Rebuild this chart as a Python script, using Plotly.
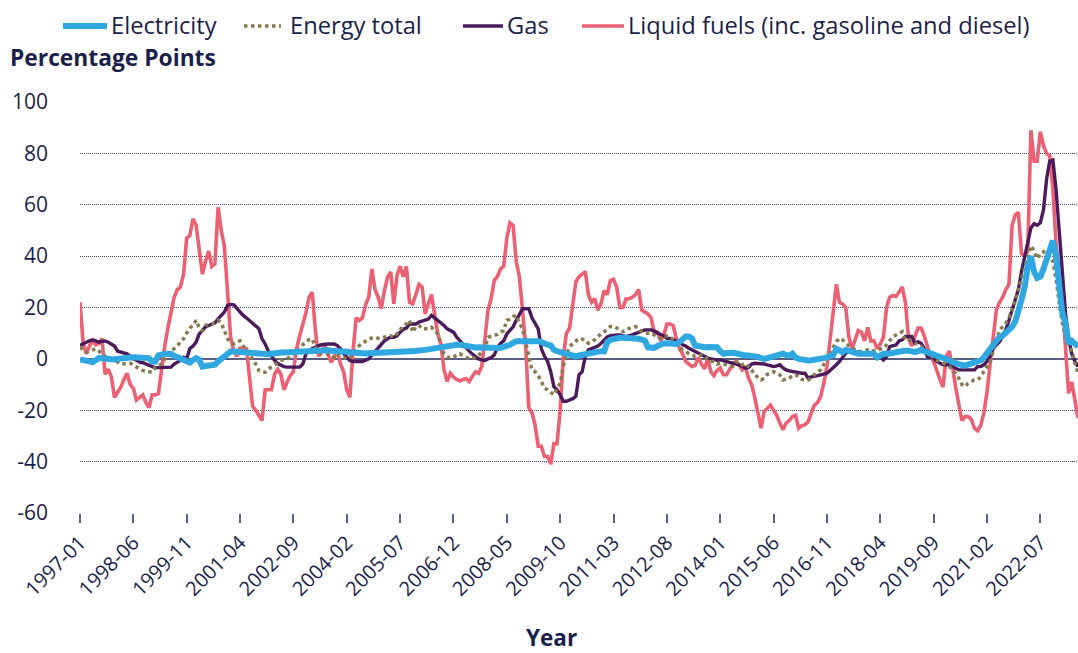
import pandas as pd
import plotly.graph_objects as go

# Monthly categories 1997-01 .. 2023-07
months = [p.strftime("%Y-%m") for p in pd.period_range("1997-01", "2023-07", freq="M")]
tick_labels = ["1997-01", "1998-06", "1999-11", "2001-04", "2002-09", "2004-02", "2005-07",
               "2006-12", "2008-05", "2009-10", "2011-03", "2012-08", "2014-01", "2015-06",
               "2016-11", "2018-04", "2019-09", "2021-02", "2022-07"]
y_ticks = [-60, -40, -20, 0, 20, 40, 60, 80, 100]
y_tick_text = ["-60", "-40", "-20", "0", "20", "40", "60", "80", "100"]

electricity = [
    -0.2, -0.3, -0.5, -1, -1.3, -0.3, 0.3, 0.2, 0, -0.2, -0.3, -0.2,
    0, 0, 0.2, 0.3, 0.5, 0.6, 0.6, 0.6, 0.6, 0.5, 0.3, -1,
    -1, 1.4, 1.8, 1.9, 1.9, 1.9, 1.2, 0.6, 0, -0.5, -1, -1.4,
    -0.5, 0.3, -0.3, -3, -2.8, -2.7, -2.5, -2.3, -1, 0, 1.6, 2.5,
    2.9, 2.9, 2.8, 2.6, 2.5, 2.3, 2.3, 2.3, 2.3, 2, 1.6, 1.7,
    1.8, 2, 2.3, 2.4, 2.5, 2.5, 2.6, 2.6, 2.6, 2.6, 2.6, 2.6,
    2.8, 3.2, 3.3, 3.5, 3.5, 3.5, 3.5, 3.4, 3.2, 3.2, 3.2, 3.2,
    3, 2.8, 2.6, 2.4, 2.2, 2, 2, 2.1, 2.2, 2.3, 2.4, 2.6,
    2.7, 2.8, 2.9, 3, 3, 3, 3, 3, 3, 3, 3, 3,
    3.2, 3.3, 3.5, 3.7, 3.9, 4.2, 4.6, 4.9, 5.1, 5.3, 5.5, 5.5,
    5.5, 5.5, 5.2, 4.9, 4.6, 4.3, 4.4, 4.5, 4.4, 4.3, 4.1, 3.9,
    4, 4.2, 4.3, 4.6, 4.8, 5.5, 6.2, 6.9, 6.9, 6.9, 7, 7.1,
    7, 7, 6.9, 6.5, 5.8, 5.5, 5.2, 3.5, 3, 2.6, 2.3, 2,
    1.5, 0.9, 1, 1.3, 1.6, 2, 2.3, 2.6, 2.9, 3.2, 3, 2.9,
    6.5, 7.4, 7.8, 8.2, 8.2, 8.2, 8.2, 8.2, 8.2, 8, 7.8, 7.5,
    7.1, 4.5, 4.5, 4.3, 5, 5.6, 6, 6.1, 6, 5.9, 5.8, 6.5,
    7.8, 8.7, 8.7, 8, 5.2, 4.8, 4.5, 4.5, 4.6, 4.6, 4.6, 4.5,
    3, 2, 2.3, 2.6, 2.4, 2.2, 1.8, 1.3, 1.3, 1.3, 1.3, 1.3,
    0.8, 0.3, 0, 0.3, 0.6, 1, 1.3, 1.8, 2, 1.5, 1.3, 2,
    0.5, 0, -0.4, -0.5, -0.6, -0.5, -0.4, -0.2, 0, 0.3, 0.6, 1,
    1.5, 3.9, 3, 2.6, 3.5, 3, 2.6, 2.3, 2, 2, 2, 2,
    2, 2, 0.6, 1.3, 2, 2, 2, 2.3, 2.6, 3, 3.2, 3.2,
    3.2, 3, 2.6, 3, 3.5, 3, 2.6, 2, 1.3, 1, 0.6, 0.3,
    0, -0.5, -1.3, -1.8, -2.2, -2.4, -2.6, -2.2, -1.8, -1.3, -1, -0.6,
    0.5, 2.5, 4, 5.5, 7, 8.5, 9, 10, 11, 12.5, 14.5, 18,
    23, 28, 36, 40, 34, 31.5, 32, 35, 39, 42, 46, 40,
    28, 18, 14, 6, 7, 5.5, 4.8,
]

energy_total = [
    4.5, 3.5, 2.6, 3, 3.5, 3.9, 3, 2, 1, 0.5, 0, -0.6,
    -1.2, -2, -2, -1.7, -1.7, -2.5, -3.2, -3.8, -4.5, -4.8, -5, -5.2,
    -3.2, -2.5, -2, 0, 2, 2.8, 3.8, 5.2, 6.5, 7.8, 10, 12,
    13, 15, 12, 11, 13, 13.6, 13.6, 14, 15, 14, 11, 7.8,
    6.5, 5.8, 6.5, 7, 5, 3.5, 2, 0, -2, -4.5, -5.2, -5.2,
    -4, -3.2, -2.6, -1.5, -0.6, -0.3, 0, 1, 2, 2, 4, 5.5,
    6.5, 7.5, 7.8, 4.5, 3, 2, 2, 2, 1, 0.6, 2, 1,
    0.6, 0, 0.5, 2, 4, 5.2, 6, 7, 7.8, 8.1, 8.4, 8,
    8, 8.4, 8.8, 9, 8.4, 10, 11.7, 12.8, 13.6, 15, 10.4, 12.5,
    13, 11.7, 11.7, 11.7, 12.3, 11, 9.7, 5.8, 2, 0.6, 0.6, 0.6,
    1.5, 2, 1.3, 0.6, 0, 0.3, 0.6, 1.3, 2.5, 4, 8.4, 8.8,
    9, 9.5, 10.5, 11, 15, 15.5, 16.5, 17, 14, 11.7, 6.5, 1.3,
    -4.3, -5, -6.5, -8.8, -11.4, -12, -13, -14, -11.4, -9.5, -3, 1.6,
    4.8, 5.8, 6.7, 8, 7.7, 7.4, 6.1, 6.8, 7.4, 8.7, 9.5, 10.6,
    11.5, 12.6, 12.6, 12, 11.3, 10.6, 11, 11.9, 12.3, 12.6, 11.3, 10.5,
    10, 10, 10, 9.3, 8.5, 8, 9, 9, 8.7, 7.5, 6.1, 5,
    3.5, 2.9, 2, 1.6, 1, 1.2, 1.6, 0.5, 0, -1, -1, -2,
    -1.7, -2, -2.3, -2.6, -3, -1.5, -1, -2.3, -1.7, -3, -4.3, -6.2,
    -7, -8.2, -7.5, -6, -5.6, -5, -5.6, -6.2, -8.2, -8, -7.5, -6.5,
    -6.2, -6.9, -8, -8.2, -8.2, -7.5, -6.2, -5, -4.3, -2.3, -0.4, 2.2,
    4.5, 6.7, 8, 7.4, 6.1, 5, 4.1, 3.5, 2.9, 2.9, 3.2, 3.5,
    2.9, 3.2, 3.5, 3.8, 4.1, 5.4, 7, 8.7, 9.3, 10, 10.6, 7.4,
    7.4, 6.8, 6.1, 5.4, 5, 3.5, 2.5, 1.6, 0.3, -0.5, -1, -1.7,
    -2.3, -3, -4.5, -5.6, -7.5, -10, -10.8, -9.5, -8.8, -8.2, -8.2, -7,
    -5, -3, -1, 3, 7, 11, 12.6, 13.9, 16, 19, 22.5, 27,
    31, 36, 40, 44, 42, 39, 41, 41.7, 40, 40, 38, 31,
    22, 14, 9, 6, 3, -1.5, -5.6,
]

gas = [
    5.2, 6, 6.5, 7, 7.4, 7, 6.5, 6.8, 7, 6.5, 5.8, 5,
    3, 2.6, 2.3, 2, 1, 0, -0.5, -1.3, -1.5, -2, -2.5, -3,
    -3.5, -3.4, -3.3, -3.2, -3.2, -3.2, -2, -1.2, -0.6, 0.6, 0, 4,
    5, 6.5, 9.7, 11, 12.5, 13, 13.6, 14, 15.6, 17, 18.2, 20.8,
    21.2, 21, 19.5, 18, 16.9, 16, 15, 13.6, 13, 11.7, 7.8, 5.8,
    3, 1, -0.6, -1.8, -2.6, -3, -3.2, -3.2, -3.2, -3.2, -3.2, -2,
    2, 3, 4, 4.5, 5.2, 5.5, 5.8, 5.8, 5.8, 5.8, 5.2, 3.9,
    2, 0.5, -0.6, -1, -1, -1, -1, -0.5, 0, 1.5, 3, 4,
    6, 7, 7.8, 8.4, 8.4, 9, 10.4, 11.5, 12, 13.6, 13.6, 13.6,
    14.3, 14.6, 15, 15.5, 16.9, 16, 15, 14, 13, 11.7, 11, 10.4,
    8.5, 7, 5.8, 4.5, 3, 1.9, 0.8, 0, -0.4, -0.6, 0, 0.5,
    1.5, 4.5, 6, 7, 9.7, 11, 12.5, 15, 17.5, 19.5, 19.5, 19.5,
    16, 13.6, 11.7, 4, 1, -1, -5, -10.8, -12, -14, -16.5, -16.5,
    -16, -15.5, -14.6, -6.2, -5, 1, 3.5, 4, 4.5, 5, 6, 7.4,
    8.5, 9, 9.3, 9.3, 9.3, 9, 8.7, 9, 9.5, 10, 10.6, 11,
    11.3, 11.3, 11.3, 10.8, 10, 9.5, 9, 8, 8, 7.5, 7, 6.5,
    5.5, 5, 4.1, 3.5, 3, 2.5, 1.6, 1, 0.3, 0, -0.4, -0.5,
    -0.4, -0.7, -1, -1.3, -1.7, -2, -2.3, -3, -3.6, -3.3, -2, -1.7,
    -1.7, -1.7, -2, -2.3, -2.7, -3, -2.7, -2.3, -3.5, -4.3, -4.7, -5,
    -5.3, -5.6, -5.6, -5.6, -7.5, -7, -6.9, -6.5, -6.2, -6, -5.6, -4.5,
    -3.6, -2.3, -1, 0.9, 2.2, 2.9, 2.9, 2.9, 2.5, 2.2, 2.2, 2.2,
    2, 1.6, 1.2, 0.9, -0.4, 0.9, 4.8, 5.2, 5.4, 7, 7.4, 8.7,
    8.7, 8.7, 6.1, 6.7, 6.1, 4.1, 0.9, 0.6, 0.3, -1, -1.7, -2.3,
    -2.3, -2.3, -3, -3.6, -4.3, -4.3, -4.3, -4.3, -4.3, -4.3, -3, -3,
    -2.3, -1, 1, 4, 5.5, 6.7, 9, 11.3, 15, 19, 24, 27,
    34, 40, 46, 51, 52.6, 52, 53, 58, 70, 77, 77.4, 66,
    50, 32, 18, 8, 2, -1, -3,
]

liquid_fuels = [
    22, 6, 2, 5, 7, 5.5, 6, 8, -6, -4, -7, -15,
    -13, -11, -8, -5.6, -10, -11.5, -16, -15, -14, -17, -19, -14,
    -14, -13.5, -3, 5, 12, 18, 24, 27, 28, 33, 47, 48,
    54.5, 52, 42, 33, 38, 42, 36, 37, 59, 50, 44, 27,
    8.4, 3, 1, 4.5, 3, 4.5, -6, -18.5, -20, -22, -24, -12,
    -12, -12, -6, -4, -6, -12, -9, -6.5, -5, 4, 9, 13,
    18, 24, 26, 11, 1, 3, 5, 2, -1.3, 0.6, 3, -2,
    -5, -12, -15, 3, 16, 15, 16, 21, 24, 35, 27, 24,
    19.5, 26.6, 31.8, 33.8, 21.4, 32.5, 36, 32, 36, 22, 21.4, 25,
    29, 28, 17.5, 21.4, 25, 17.5, 9.7, 5.8, -4.3, -8.8, -5.6, -7,
    -8, -8.5, -8, -7.7, -8.8, -7, -5, -5.6, -3, 7.4, 19, 23.4,
    30.5, 32, 35, 36, 47, 53, 52, 38, 32, 19, 5, -19,
    -21, -25.7, -34, -34, -38, -38, -41, -33, -33, -20, 1, 10,
    12, 21, 30, 32, 33, 34, 25, 22, 23.4, 19, 21.4, 26.6,
    25, 30.5, 31, 28, 20, 20, 23.4, 23.4, 24, 25, 27, 19,
    18.2, 17.5, 16, 10, 10.4, 7, 9, 13.6, 13.6, 13, 8, 4,
    2, -1, -2, -3, -2.6, 0.6, -2, -3.9, 0, -5, -6.5, -4.5,
    -3.6, -6.2, -6.2, -4.3, -2, -1, -2.3, -4.3, -3, -7.5, -10, -15,
    -22, -27, -20.5, -19, -18, -20, -22, -25, -27.6, -25, -24, -22.4,
    -22, -27, -26, -25.7, -24.5, -21, -18, -17, -14.6, -9.5, -3, 7.4,
    20, 29, 22, 21.4, 20, 8.4, 3.9, 7.8, 11, 10.4, 7, 12.3,
    7, 7, 3.9, 5.8, 8.4, 20, 24, 24.7, 24.3, 26, 28, 22,
    8, 5, 9, 12, 12, 9, 5, 1, -1, -5, -8, -11,
    1, 3, -3, -11, -18, -24, -22.5, -22.5, -23.5, -27, -28, -26,
    -21, -13, -2, 10, 19, 22, 24, 27, 29, 52, 56, 57,
    41, 40, 42, 89, 77, 77, 88.4, 83, 80, 79, 66, 45,
    32, 23, 5, -13.4, -9, -16, -23,
]

NAVY = "#1b1f4b"
FONT = "Open Sans"
COLORS = {"Electricity": "#2fa8e1", "Energy total": "#857b4f",
          "Gas": "#4b1a5c", "Liquid fuels (inc. gasoline and diesel)": "#ec6074"}

# layout geometry (pixels)
W, H = 1078, 653
L, R, T, B = 80, 0, 102, 140
PW, PH = W - L - R, H - T - B


def px_x(x):
    return (x - L) / PW


def px_y(y):
    return (H - B - y) / PH


fig = go.Figure()
fig.add_trace(go.Scatter(x=months, y=liquid_fuels, mode="lines",
                         name="Liquid fuels (inc. gasoline and diesel)",
                         line=dict(color=COLORS["Liquid fuels (inc. gasoline and diesel)"], width=3.6)))
fig.add_trace(go.Scatter(x=months, y=gas, mode="lines", name="Gas",
                         line=dict(color=COLORS["Gas"], width=3.4)))
fig.add_trace(go.Scatter(x=months, y=energy_total, mode="lines", name="Energy total",
                         line=dict(color=COLORS["Energy total"], width=3.5, dash="dot")))
fig.add_trace(go.Scatter(x=months, y=electricity, mode="lines", name="Electricity",
                         line=dict(color=COLORS["Electricity"], width=6)))

# legend drawn as line samples + text (sample positions in px)
legend_items = [
    ("Electricity", 63, 107, 109, "solid", 6),
    ("Energy total", 244, 281, 288, "dot", 3.5),
    ("Gas", 463, 503, 505, "solid", 3.4),
    ("Liquid fuels (inc. gasoline and diesel)", 582, 624, 626, "solid", 3.6),
]
shapes = []
annotations = []
LEG_Y = 26
for name, s0, s1, tx, dash, w in legend_items:
    shapes.append(dict(type="line", xref="paper", yref="paper",
                       x0=px_x(s0), x1=px_x(s1), y0=px_y(LEG_Y), y1=px_y(LEG_Y),
                       line=dict(color=COLORS[name], width=w, dash=dash)))
    annotations.append(dict(text=name, xref="paper", yref="paper",
                            x=px_x(tx), y=px_y(LEG_Y - 1), xanchor="left", yanchor="middle",
                            showarrow=False, font=dict(size=23.7, color=NAVY, family=FONT)))

annotations.append(dict(text="<b>Percentage Points</b>", xref="paper", yref="paper",
                        x=px_x(8), y=px_y(57), xanchor="left", yanchor="middle",
                        showarrow=False, font=dict(size=22.8, color=NAVY, family=FONT)))
annotations.append(dict(text="<b>Year</b>", xref="paper", yref="paper",
                        x=px_x(551), y=px_y(637), xanchor="center", yanchor="middle",
                        showarrow=False, font=dict(size=22.5, color=NAVY, family=FONT)))

fig.update_layout(
    width=W, height=H,
    margin=dict(l=L, r=R, t=T, b=B, autoexpand=False),
    paper_bgcolor="white", plot_bgcolor="white",
    font=dict(family=FONT, color=NAVY, size=21),
    showlegend=False,
    xaxis=dict(type="category", range=[0, len(months) - 1], automargin=False,
               tickmode="array", tickvals=tick_labels, ticktext=tick_labels,
               tickangle=-45, ticks="outside", ticklen=9, tickwidth=1.5,
               tickcolor="#5a5e80", showgrid=False, showline=False,
               zeroline=False, tickfont=dict(size=20, color=NAVY, family=FONT)),
    yaxis=dict(range=[-60, 100], tickmode="array", tickvals=y_ticks, ticktext=y_tick_text,
               automargin=False,
               showgrid=True, gridcolor="#3d4270", griddash="1px,1px", gridwidth=1,
               zeroline=True, zerolinecolor="#5a5e80", zerolinewidth=2,
               showline=False, ticks="", ticklabelstandoff=31,
               tickfont=dict(size=21, color=NAVY, family=FONT)),
    shapes=shapes,
    annotations=annotations,
)

fig.write_html("out.html", config={"displayModeBar": False},
               post_script="document.body.style.margin='0';document.body.style.overflow='hidden';")
